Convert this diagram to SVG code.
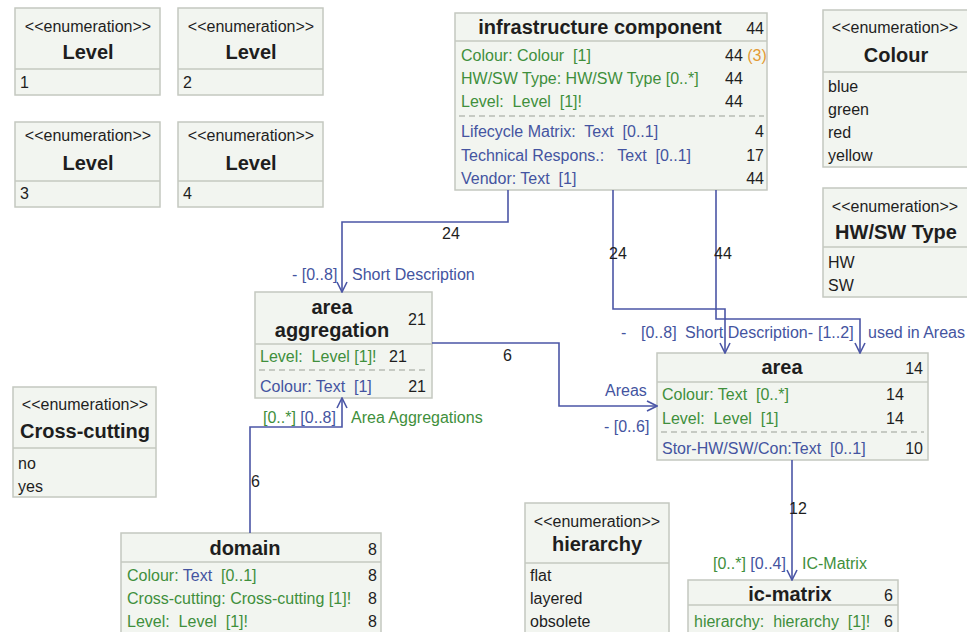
<svg xmlns="http://www.w3.org/2000/svg" width="967" height="632" viewBox="0 0 967 632" xml:space="preserve">
<defs>
<style>
text { font-family: "Liberation Sans", Arial, sans-serif; font-size: 16px; fill: #1e1e1e; white-space: pre; }
.box { fill: #f2f5f0; stroke: #c4c8c0; stroke-width: 1.5; }
.div { stroke: #c4c8c0; stroke-width: 1.5; }
.dash { stroke: #b8bcb4; stroke-width: 1.5; stroke-dasharray: 6 4; }
.st { text-anchor: middle; font-size: 16px; }
.tt { text-anchor: middle; font-size: 20px; font-weight: bold; }
.g { fill: #3f8f3c; }
.b { fill: #4454a0; }
.o { fill: #e39b34; }
.e { text-anchor: end; }
.m { text-anchor: middle; }
.c { fill: none; stroke: #4b56a6; stroke-width: 1.6; }
</style>
<marker id="arr" viewBox="0 0 12 12" refX="11" refY="6" markerWidth="12" markerHeight="12" markerUnits="userSpaceOnUse" orient="auto">
<path d="M1,1 L11,6 L1,11" fill="none" stroke="#4b56a6" stroke-width="1.6"/>
</marker>
</defs>
<rect width="967" height="632" fill="#ffffff"/>

<g id="level1">
<rect class="box" x="15" y="8" width="145" height="87"/>
<line class="div" x1="15" y1="69" x2="160" y2="69"/>
<text class="st" x="88" y="32">&lt;&lt;enumeration&gt;&gt;</text>
<text class="tt" x="88" y="59">Level</text>
<text x="20" y="88">1</text>
</g>
<g id="level2">
<rect class="box" x="178" y="8" width="145" height="87"/>
<line class="div" x1="178" y1="69" x2="323" y2="69"/>
<text class="st" x="251" y="32">&lt;&lt;enumeration&gt;&gt;</text>
<text class="tt" x="251" y="59">Level</text>
<text x="183" y="88">2</text>
</g>
<g id="level3">
<rect class="box" x="15" y="122" width="145" height="85"/>
<line class="div" x1="15" y1="181" x2="160" y2="181"/>
<text class="st" x="88" y="141">&lt;&lt;enumeration&gt;&gt;</text>
<text class="tt" x="88" y="170">Level</text>
<text x="20" y="199">3</text>
</g>
<g id="level4">
<rect class="box" x="178" y="122" width="145" height="85"/>
<line class="div" x1="178" y1="181" x2="323" y2="181"/>
<text class="st" x="251" y="141">&lt;&lt;enumeration&gt;&gt;</text>
<text class="tt" x="251" y="170">Level</text>
<text x="183" y="199">4</text>
</g>

<g id="infrastructure-component">
<rect class="box" x="455" y="13" width="312" height="177"/>
<line class="div" x1="455" y1="41" x2="767" y2="41"/>
<text class="tt" x="600" y="34">infrastructure component</text>
<text class="e" x="764" y="34">44</text>
<text class="g" x="461" y="61">Colour: Colour  [1]</text>
<text x="725" y="61">44 <tspan class="o">(3)</tspan></text>
<text class="g" x="461" y="84">HW/SW Type: HW/SW Type [0..*]</text>
<text x="725" y="84">44</text>
<text class="g" x="461" y="107">Level:  Level  [1]!</text>
<text x="725" y="107">44</text>
<line class="dash" x1="459" y1="116" x2="764" y2="116"/>
<text class="b" x="461" y="137">Lifecycle Matrix:  Text  [0..1]</text>
<text class="e" x="764" y="137">4</text>
<text class="b" x="461" y="161">Technical Respons.:   Text  [0..1]</text>
<text class="e" x="764" y="161">17</text>
<text class="b" x="461" y="184">Vendor: Text  [1]</text>
<text class="e" x="764" y="184">44</text>
</g>

<g id="colour-enum">
<rect class="box" x="823" y="10" width="150" height="157"/>
<line class="div" x1="823" y1="72" x2="973" y2="72"/>
<text class="st" x="895" y="33">&lt;&lt;enumeration&gt;&gt;</text>
<text class="tt" x="896" y="62">Colour</text>
<text x="828" y="92">blue</text>
<text x="828" y="115">green</text>
<text x="828" y="138">red</text>
<text x="828" y="161">yellow</text>
</g>

<g id="hwsw-enum">
<rect class="box" x="823" y="188" width="150" height="109"/>
<line class="div" x1="823" y1="247" x2="973" y2="247"/>
<text class="st" x="895" y="212">&lt;&lt;enumeration&gt;&gt;</text>
<text class="tt" x="896" y="239">HW/SW Type</text>
<text x="828" y="268">HW</text>
<text x="828" y="291">SW</text>
</g>

<g id="area-aggregation">
<rect class="box" x="255" y="292" width="177" height="106"/>
<line class="div" x1="255" y1="344" x2="432" y2="344"/>
<text class="tt" x="332" y="314">area</text>
<text class="tt" x="332" y="337">aggregation</text>
<text x="408" y="325">21</text>
<text class="g" x="260" y="362">Level:  Level [1]!</text>
<text x="389" y="362">21</text>
<line class="dash" x1="259" y1="370" x2="428" y2="370"/>
<text class="b" x="260" y="392">Colour: Text  [1]</text>
<text class="e" x="426" y="392">21</text>
</g>

<g id="area">
<rect class="box" x="657" y="353" width="271" height="107"/>
<line class="div" x1="657" y1="382" x2="928" y2="382"/>
<text class="tt" x="782" y="374">area</text>
<text class="e" x="923" y="374">14</text>
<text class="g" x="662" y="400">Colour: Text  [0..*]</text>
<text x="886" y="400">14</text>
<text class="g" x="662" y="424">Level:  Level  [1]</text>
<text x="886" y="424">14</text>
<line class="dash" x1="661" y1="432" x2="924" y2="432"/>
<text class="b" x="662" y="454">Stor-HW/SW/Con:Text  [0..1]</text>
<text class="e" x="923" y="454">10</text>
</g>

<g id="cross-cutting-enum">
<rect class="box" x="13" y="387" width="143" height="110"/>
<line class="div" x1="13" y1="448" x2="156" y2="448"/>
<text class="st" x="85" y="410">&lt;&lt;enumeration&gt;&gt;</text>
<text class="tt" x="85" y="438">Cross-cutting</text>
<text x="18" y="469">no</text>
<text x="18" y="492">yes</text>
</g>

<g id="domain">
<rect class="box" x="121" y="533" width="260" height="110"/>
<line class="div" x1="121" y1="562" x2="381" y2="562"/>
<text class="tt" x="245" y="555">domain</text>
<text class="e" x="377" y="555">8</text>
<text class="g" x="127" y="581">Colour: <tspan class="b">Text</tspan>  [0..1]</text>
<text class="e" x="377" y="581">8</text>
<text class="g" x="127" y="604">Cross-cutting: Cross-cutting [1]!</text>
<text class="e" x="377" y="604">8</text>
<text class="g" x="127" y="627">Level:  Level  [1]!</text>
<text class="e" x="377" y="627">8</text>
</g>

<g id="hierarchy-enum">
<rect class="box" x="525" y="503" width="144" height="140"/>
<line class="div" x1="525" y1="563" x2="669" y2="563"/>
<text class="st" x="597" y="527">&lt;&lt;enumeration&gt;&gt;</text>
<text class="tt" x="597" y="551">hierarchy</text>
<text x="530" y="581">flat</text>
<text x="530" y="604">layered</text>
<text x="530" y="627">obsolete</text>
</g>

<g id="ic-matrix">
<rect class="box" x="688" y="580" width="210" height="63"/>
<line class="div" x1="688" y1="605" x2="898" y2="605"/>
<text class="tt" x="790" y="601">ic-matrix</text>
<text class="e" x="893" y="601">6</text>
<text class="g" x="694" y="627">hierarchy:  hierarchy  [1]!</text>
<text class="e" x="893" y="627">6</text>
</g>

<g id="connectors">
<path class="c" d="M508,190 V222 H342 V292" marker-end="url(#arr)"/>
<text x="442" y="239">24</text>
<text class="b" x="292" y="280">- [0..8]</text>
<text class="b" x="352" y="280">Short Description</text>

<path class="c" d="M613,190 V309 H725 V353" marker-end="url(#arr)"/>
<text x="609" y="259">24</text>
<path class="c" d="M716,190 V319 H860 V353" marker-end="url(#arr)"/>
<text x="714" y="259">44</text>
<text class="b" x="621" y="338">-</text>
<text class="b" x="641" y="338">[0..8]</text>
<text class="b" x="685" y="338">Short Description-</text>
<text class="b" x="818" y="338">[1..2]</text>
<text class="b" x="868" y="338">used in Areas</text>

<path class="c" d="M432,343 H559 V406 H657" marker-end="url(#arr)"/>
<text x="503" y="361">6</text>
<text class="b" x="605" y="396">Areas</text>
<text class="b" x="604" y="432">- [0..6]</text>

<path class="c" d="M250,533 V427 H342 V398" marker-end="url(#arr)"/>
<text x="251" y="487">6</text>
<text x="263" y="423"><tspan class="g">[0..*]</tspan><tspan class="b"> [0..8]</tspan></text>
<text class="g" x="351" y="423">Area Aggregations</text>

<path class="c" d="M792,460 V580" marker-end="url(#arr)"/>
<text x="789" y="514">12</text>
<text x="713" y="569"><tspan class="g">[0..*]</tspan><tspan class="b"> [0..4]</tspan></text>
<text class="g" x="802" y="569">IC-Matrix</text>
</g>
</svg>
